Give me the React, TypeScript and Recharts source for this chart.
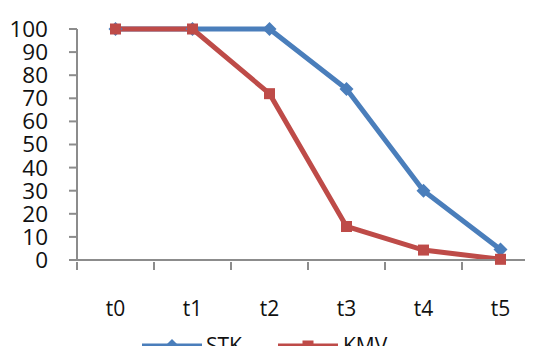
import React from 'react';
import { LineChart, Line, XAxis, YAxis } from 'recharts';

const periods = ['t0', 't1', 't2', 't3', 't4', 't5'];
const stkValues = [100, 100, 100, 74, 30, 4.5];
const kmvValues = [100, 100, 72, 14.5, 4.3, 0.3];
const yTicks = [0, 10, 20, 30, 40, 50, 60, 70, 80, 90, 100];
const seriesNames = ['STK', 'KMV'];

const data = periods.map((p, i) => ({ period: p, STK: stkValues[i], KMV: kmvValues[i] }));

const BLUE = '#4A7EBB';
const RED = '#BE4B48';
const AXIS = '#8C8C8C';
const BAND = 77;
const FONT = "'Open Sans', sans-serif";

const Diamond = (props: any) => {
    const { cx, cy } = props;
    if (cx == null || cy == null) return null;
    const r = 7;
    return <polygon points={`${cx},${cy - r} ${cx + r},${cy} ${cx},${cy + r} ${cx - r},${cy}`} fill={BLUE} />;
};

const Square = (props: any) => {
    const { cx, cy } = props;
    if (cx == null || cy == null) return null;
    const s = 5.5;
    return <rect x={cx - s} y={cy - s} width={s * 2} height={s * 2} fill={RED} />;
};

// tick marks sit on the band edges, labels in the middle
const XTick = (props: any) => {
    const { x, y, payload } = props;
    return (
        <g>
            <line x1={x - BAND / 2} y1={y} x2={x - BAND / 2} y2={y + 8} stroke={AXIS} strokeWidth={2} />
            <text x={x} y={y + 54} textAnchor="middle" fontSize={21} fill="#111" fontFamily={FONT}>
                {payload.value}
            </text>
        </g>
    );
};

// legend drawn by hand, bottom edge is cropped like the original
const ChartLegend = () => (
    <svg width={533} height={24} style={{ position: 'absolute', left: 0, top: 330, display: 'block' }}>
        <line x1={142} y1={16} x2={202} y2={16} stroke={BLUE} strokeWidth={5} />
        <Diamond cx={172} cy={16} />
        <text x={206} y={23} fontSize={21} fill="#111" fontFamily={FONT}>{seriesNames[0]}</text>
        <line x1={278} y1={16} x2={338} y2={16} stroke={RED} strokeWidth={5} />
        <Square cx={308} cy={16} />
        <text x={343} y={23} fontSize={21} fill="#111" fontFamily={FONT}>{seriesNames[1]}</text>
    </svg>
);

const App: React.FC = () => {
    return (
        <div style={{ margin: -8, width: 533, height: 354, overflow: 'hidden', background: '#fff', position: 'relative' }}>
            <LineChart width={545} height={354} data={data} margin={{ top: 29, right: 6, left: 0, bottom: 0 }}>
                <XAxis
                    dataKey="period"
                    padding={{ left: BAND / 2, right: BAND / 2 }}
                    tick={<XTick />}
                    tickLine={false}
                    tickSize={0}
                    axisLine={{ stroke: AXIS, strokeWidth: 2 }}
                    interval={0}
                    height={94}
                />
                <YAxis
                    width={77}
                    domain={[0, 100]}
                    ticks={yTicks}
                    interval={0}
                    tickSize={8}
                    tickMargin={21}
                    tickLine={{ stroke: AXIS, strokeWidth: 2 }}
                    axisLine={{ stroke: AXIS, strokeWidth: 2 }}
                    tick={{ fontSize: 22.5, fill: '#111', fontFamily: FONT }}
                />
                <Line type="linear" dataKey="STK" stroke={BLUE} strokeWidth={5} dot={<Diamond />} activeDot={false} isAnimationActive={false} />
                <Line type="linear" dataKey="KMV" stroke={RED} strokeWidth={5} dot={<Square />} activeDot={false} isAnimationActive={false} />
            </LineChart>
            <ChartLegend />
        </div>
    );
};

export default App;
